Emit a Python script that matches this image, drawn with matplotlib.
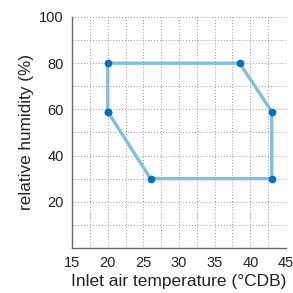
import matplotlib
matplotlib.use("Agg")
import matplotlib.pyplot as plt
import numpy as np

plt.rcParams['font.family'] = ['Liberation Sans', 'DejaVu Sans']

temp = [20, 20, 38.5, 43, 43, 26, 20]
rh = [59, 80, 80, 59, 30, 30, 59]
xticks = [15, 20, 25, 30, 35, 40, 45]
yticks = [20, 40, 60, 80, 100]

fig = plt.figure(figsize=(2.93, 2.93), dpi=100)
ax = fig.add_axes([0.246, 0.154, 0.73, 0.788])

ax.plot(temp, rh, color='#7fbfdf', lw=2.4, zorder=3, solid_joinstyle='round')
ax.plot(temp, rh, 'o', color='#0072bd', ms=4.5, zorder=4)

ax.set_xlim(15, 45)
ax.set_ylim(0, 100)
ax.set_xticks(xticks)
ax.set_yticks(yticks)
ax.set_xticks(np.arange(17.5, 45, 2.5), minor=True)
ax.set_yticks(np.arange(10, 100, 10), minor=True)
ax.grid(which='both', linestyle=(0, (1, 2.5)), color='#777777', lw=0.6)
ax.tick_params(which='both', length=0, labelsize=10.5, colors='#222222', pad=6)
for s in ['top', 'right']:
    ax.spines[s].set_visible(False)
for s in ['left', 'bottom']:
    ax.spines[s].set_color('#666666')
    ax.spines[s].set_linewidth(1.0)
    ax.spines[s].set_zorder(5)

ax.set_xlabel('Inlet air temperature (°CDB)', fontsize=12.5, color='#222222', labelpad=3)
ax.set_ylabel('relative humidity (%)', fontsize=12.3, color='#222222', labelpad=4)

fig.savefig('out.png', dpi=100)
